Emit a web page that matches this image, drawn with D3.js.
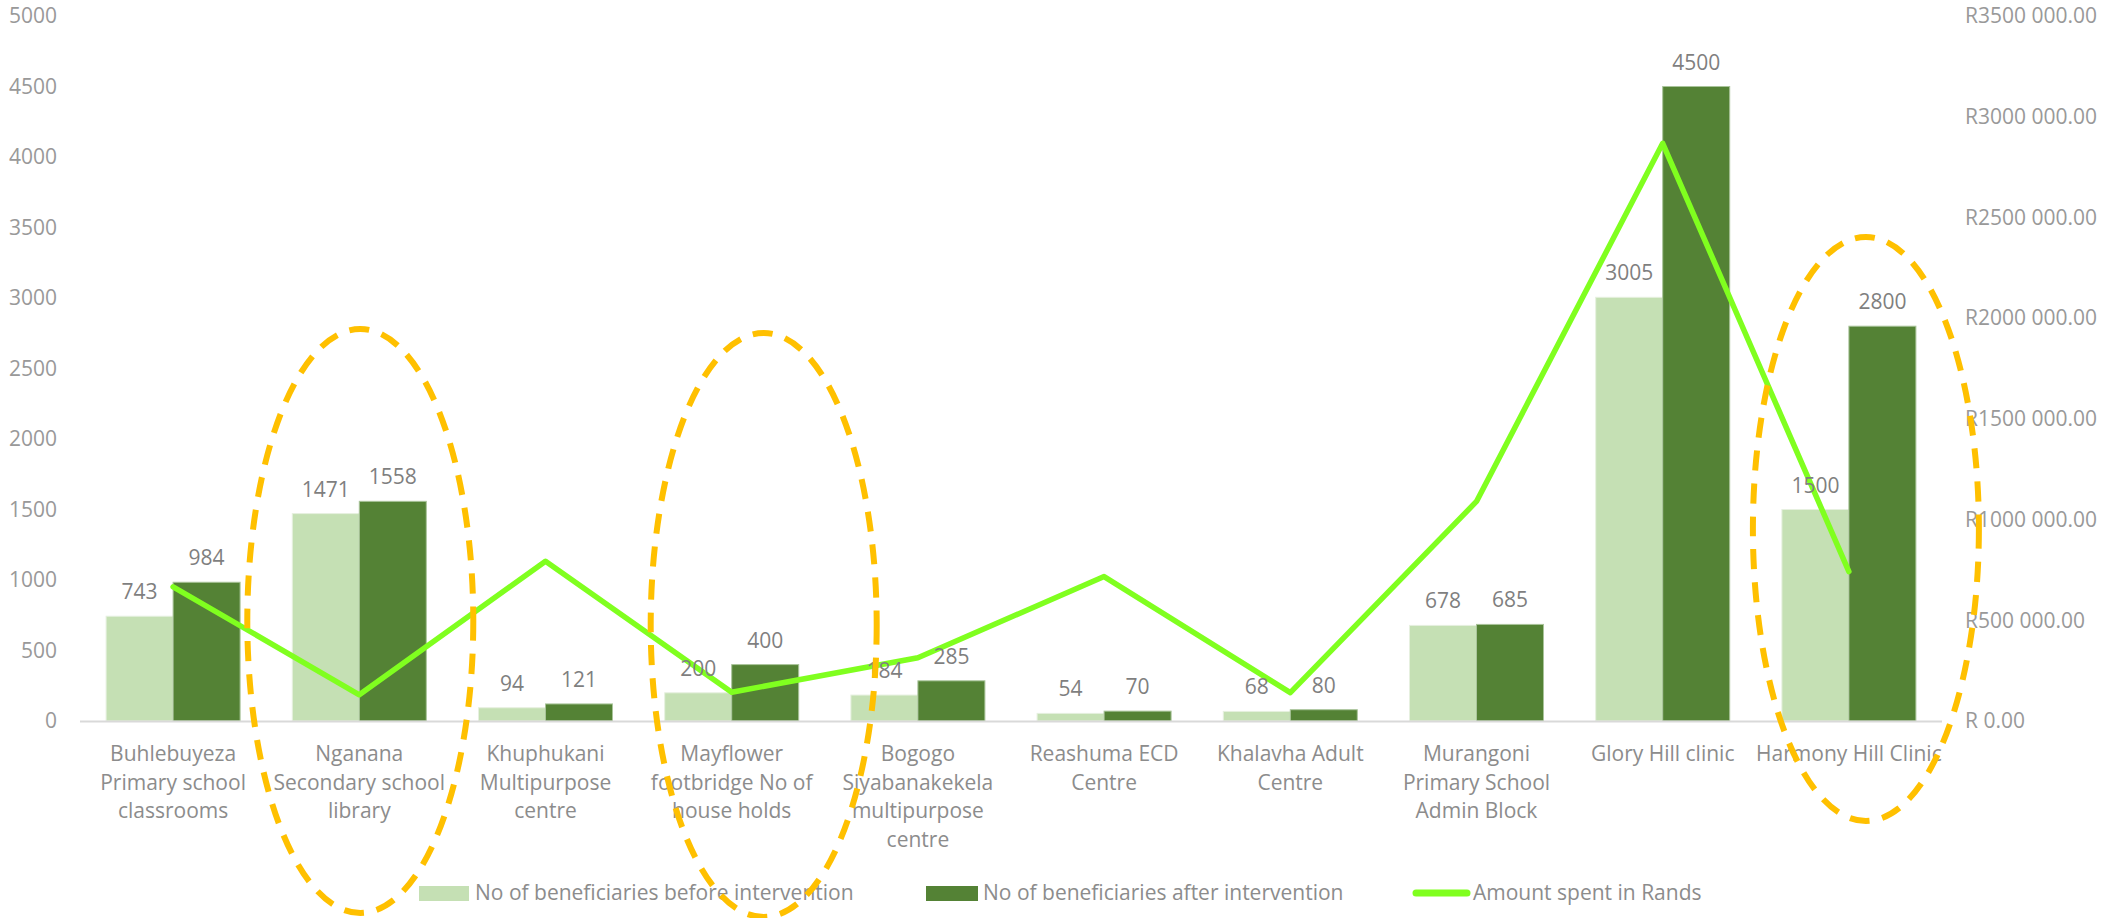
<!DOCTYPE html>
<html><head><meta charset="utf-8">
<script src="https://cdn.jsdelivr.net/npm/d3@7"></script>
<style>html,body{margin:0;padding:0;background:#fff;} svg{display:block;}</style>
</head><body>
<svg id="chart" width="2106" height="918"></svg>
<script>
const categories = [
  "Buhlebuyeza|Primary school|classrooms",
  "Nganana|Secondary school|library",
  "Khuphukani|Multipurpose|centre",
  "Mayflower|footbridge No of|house holds",
  "Bogogo|Siyabanakekela|multipurpose|centre",
  "Reashuma ECD|Centre",
  "Khalavha Adult|Centre",
  "Murangoni|Primary School|Admin Block",
  "Glory Hill clinic",
  "Harmony Hill Clinic"
];
const beforeValues = [743, 1471, 94, 200, 184, 54, 68, 678, 3005, 1500];
const afterValues  = [984, 1558, 121, 400, 285, 70, 80, 685, 4500, 2800];
const amountSpent  = [666000, 130000, 793000, 143000, 314000, 717000, 141000, 1090000, 2868000, 742000];
const leftTicks  = [0, 500, 1000, 1500, 2000, 2500, 3000, 3500, 4000, 4500, 5000];
const rightTicks = [0, 500000, 1000000, 1500000, 2000000, 2500000, 3000000, 3500000];
const seriesNames = ["No of beneficiaries before intervention", "No of beneficiaries after intervention", "Amount spent in Rands"];
const highlighted = [1, 3, 9];

const svg = d3.select("#chart");
const FONT = "'Open Sans', 'Liberation Sans', sans-serif";
const plotLeft = 80, plotRight = 1942, plotTop = 16, plotBottom = 721;

const x = d3.scaleBand().domain(d3.range(categories.length)).range([plotLeft, plotRight]).paddingInner(0).paddingOuter(0);
const yL = d3.scaleLinear().domain([0, 5000]).range([plotBottom, plotTop]);
const yR = d3.scaleLinear().domain([0, 3500000]).range([plotBottom, plotTop]);
const barW = 67;
const cx = i => x(i) + x.bandwidth() / 2;

// left axis
const axL = d3.axisLeft(yL).tickValues(leftTicks).tickSize(0).tickPadding(0).tickFormat(d3.format("d"));
const gL = svg.append("g").attr("transform", `translate(57,0)`).call(axL);
gL.select(".domain").remove();
gL.selectAll("text").attr("font-family", FONT).attr("font-size", 21).attr("fill", "#999999");

// right axis
const fmtR = v => v === 0 ? "R 0.00" : "R" + Math.round(v / 1000) + " 000.00";
const axR = d3.axisRight(yR).tickValues(rightTicks).tickSize(0).tickPadding(0).tickFormat(fmtR);
const gR = svg.append("g").attr("transform", `translate(1965,0)`).call(axR);
gR.select(".domain").remove();
gR.selectAll("text").attr("font-family", FONT).attr("font-size", 21).attr("fill", "#999999");

// bars
const bars = svg.append("g");
bars.selectAll("rect.before").data(beforeValues).join("rect")
  .attr("x", (d, i) => cx(i) - barW).attr("width", barW)
  .attr("y", d => yL(d)).attr("height", d => plotBottom - yL(d))
  .attr("fill", "#C5E0B4").attr("stroke", "#e6f0df").attr("stroke-width", 1);
bars.selectAll("rect.after").data(afterValues).join("rect")
  .attr("x", (d, i) => cx(i)).attr("width", barW)
  .attr("y", d => yL(d)).attr("height", d => plotBottom - yL(d))
  .attr("fill", "#548235").attr("stroke", "#a9c49a").attr("stroke-width", 1);

// baseline
svg.append("line").attr("x1", plotLeft).attr("x2", plotRight).attr("y1", plotBottom + 0.5).attr("y2", plotBottom + 0.5)
  .attr("stroke", "#d9d9d9").attr("stroke-width", 2);

// category labels
const catG = svg.append("g");
categories.forEach((c, i) => {
  const t = catG.append("text").attr("x", cx(i)).attr("y", 761).attr("text-anchor", "middle")
    .attr("font-family", FONT).attr("font-size", 21).attr("fill", "#8c8c8c");
  c.split("|").forEach((ln, k) => t.append("tspan").attr("x", cx(i)).attr("dy", k === 0 ? 0 : 28.7).text(ln));
});

// line
const line = d3.line().x((d, i) => cx(i)).y(d => yR(d));
svg.append("path").datum(amountSpent).attr("d", line).attr("fill", "none")
  .attr("stroke", "#80FF1F").attr("stroke-width", 5.5).attr("stroke-linejoin", "round").attr("stroke-linecap", "round");

// data labels
const lab = svg.append("g").attr("font-family", FONT).attr("font-size", 21).attr("fill", "#7f7f7f").attr("text-anchor", "middle");
lab.selectAll("text.b").data(beforeValues).join("text")
  .attr("x", (d, i) => cx(i) - barW / 2).attr("y", d => yL(d) - 17).text(d => d);
lab.selectAll("text.a").data(afterValues).join("text")
  .attr("x", (d, i) => cx(i) + barW / 2).attr("y", d => yL(d) - 17).text(d => d);

// legend
const leg = svg.append("g").attr("font-family", FONT).attr("font-size", 21).attr("fill", "#8c8c8c");
leg.append("rect").attr("x", 419).attr("y", 886).attr("width", 50).attr("height", 15).attr("fill", "#C5E0B4");
leg.append("text").attr("x", 475).attr("y", 900).text(seriesNames[0]);
leg.append("rect").attr("x", 926).attr("y", 886).attr("width", 52).attr("height", 15).attr("fill", "#548235");
leg.append("text").attr("x", 983).attr("y", 900).text(seriesNames[1]);
leg.append("line").attr("x1", 1416).attr("x2", 1467).attr("y1", 893).attr("y2", 893)
  .attr("stroke", "#80FF1F").attr("stroke-width", 7).attr("stroke-linecap", "round");
leg.append("text").attr("x", 1473).attr("y", 900).text(seriesNames[2]);

// highlight ellipses
const ellOffsets = {1: [1, 621], 3: [32, 625], 9: [17, 529]};
svg.append("g").selectAll("ellipse").data(highlighted).join("ellipse")
  .attr("cx", d => cx(d) + ellOffsets[d][0]).attr("cy", d => ellOffsets[d][1])
  .attr("rx", 113).attr("ry", 292)
  .attr("fill", "none").attr("stroke", "#FFC000").attr("stroke-width", 6)
  .attr("stroke-dasharray", "20 13");
</script>
</body></html>
